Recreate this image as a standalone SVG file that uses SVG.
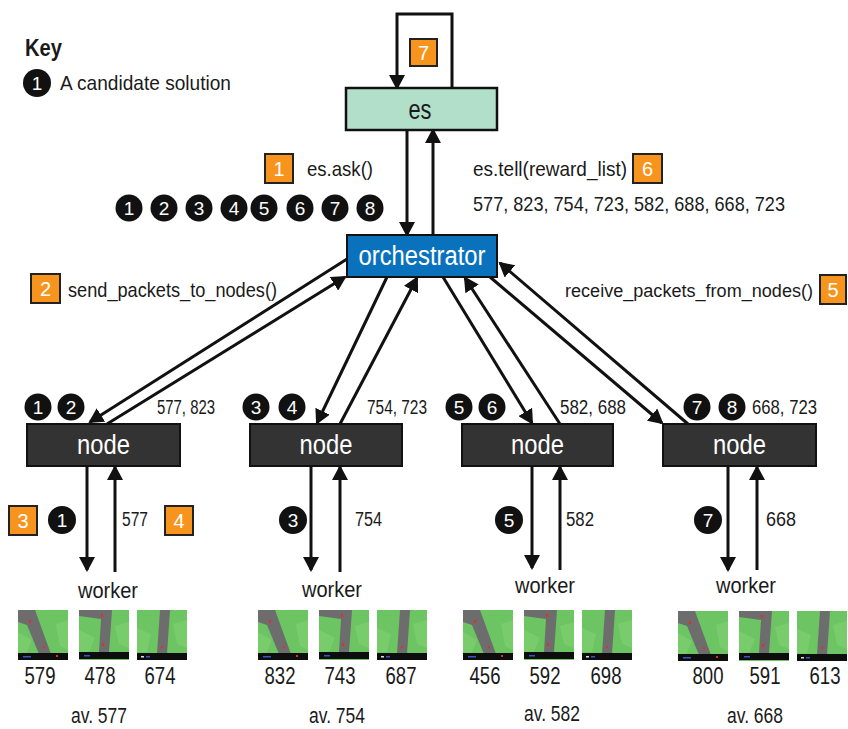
<svg xmlns="http://www.w3.org/2000/svg" xmlns:xlink="http://www.w3.org/1999/xlink" width="848" height="729" viewBox="0 0 848 729">
  <style>
    text { font-family: "Liberation Sans", Arial, sans-serif; fill: #1a1a1a; }
    .t { font-size: 21px; }
    .sm { font-size: 20px; }
    .key { font-size: 23px; font-weight: bold; }
    .box-label { font-size: 27px; fill: #ffffff; text-anchor: middle; }
    .es-label { font-size: 27px; fill: #1a1a1a; text-anchor: middle; }
    .step rect { fill: #f7941d; stroke: #222; stroke-width: 2; }
    .step text { font-size: 20px; fill: #ffffff; text-anchor: middle; }
    .sol circle { fill: #111; }
    .sol text { font-size: 19px; fill: #ffffff; text-anchor: middle; }
    .num { font-size: 22px; text-anchor: middle; }
    .score { font-size: 23px; text-anchor: middle; }
    .conn { stroke: #111; stroke-width: 3; fill: none; marker-end: url(#ah); }
  </style>
  <defs>
    <marker id="ah" markerWidth="16" markerHeight="16" refX="13" refY="8" orient="auto" markerUnits="userSpaceOnUse">
      <path d="M0,0 L15,8 L0,16 z" fill="#111"/>
    </marker>
    <!-- small race-track frames -->
    <g id="thumbA">
      <rect x="0" y="0" width="50" height="50" fill="#6cc462"/>
      <polygon points="0,22 14,30 8,44 0,44" fill="#78cc6c"/>
      <polygon points="38,14 50,10 50,40 42,36" fill="#78cc6c"/>
      <polygon points="0,0 17,0 33,44 21,44 9,15 0,12" fill="#6d6d6d"/>
      <rect x="11" y="10" width="2" height="3" fill="#e0302a"/>
      <rect x="25" y="36" width="2" height="2" fill="#e0302a"/>
      <rect x="0" y="43" width="50" height="7" fill="#0d0d0d"/>
      <rect x="5" y="46" width="8" height="1.5" fill="#3a55c8"/>
      <rect x="38" y="45" width="2" height="2" fill="#e0302a"/>
    </g>
    <g id="thumbB">
      <rect x="0" y="0" width="50" height="50" fill="#6cc462"/>
      <polygon points="0,20 16,28 10,42 0,42" fill="#78cc6c"/>
      <polygon points="36,16 50,12 50,38 40,34" fill="#78cc6c"/>
      <polygon points="0,0 33,0 30,42 20,42 22,9 0,6" fill="#6d6d6d"/>
      <rect x="22" y="4" width="2" height="3" fill="#e0302a"/>
      <rect x="23" y="33" width="2" height="3" fill="#e0302a"/>
      <rect x="0" y="42" width="50" height="7" fill="#0d0d0d"/>
      <rect x="5" y="45" width="6" height="1.5" fill="#3a55c8"/>
    </g>
    <g id="thumbC">
      <rect x="0" y="0" width="50" height="50" fill="#6cc462"/>
      <polygon points="0,18 14,24 10,42 0,42" fill="#78cc6c"/>
      <polygon points="36,14 50,10 50,38 40,34" fill="#78cc6c"/>
      <polygon points="23,0 33,0 30,44 20,44" fill="#6d6d6d"/>
      <rect x="24" y="36" width="2" height="2" fill="#e0302a"/>
      <rect x="0" y="43" width="50" height="7" fill="#0d0d0d"/>
      <rect x="4" y="46" width="3" height="1.5" fill="#dddddd"/>
      <rect x="9" y="46" width="4" height="1.5" fill="#3a55c8"/>
    </g>
  </defs>

  <rect width="848" height="729" fill="#ffffff"/>

  <!-- key -->
  <g id="key">
    <text class="key" x="25" y="56" textLength="37" lengthAdjust="spacingAndGlyphs">Key</text>
    <g class="sol"><circle cx="37" cy="83" r="14"/><text x="37" y="90">1</text></g>
    <text class="t" x="60" y="90" textLength="171" lengthAdjust="spacingAndGlyphs">A candidate solution</text>
  </g>

  <!-- connectors -->
  <g id="connectors">
    <path class="conn" d="M452,88 V14 H397 V88"/>
    <path class="conn" d="M407,130 V235"/>
    <path class="conn" d="M433,235 V130"/>
    <path class="conn" d="M347,259 L90,422"/>
    <path class="conn" d="M107,424 L345,277"/>
    <path class="conn" d="M387,277 L317,423"/>
    <path class="conn" d="M340,424 L417,278"/>
    <path class="conn" d="M443,277 L532,423"/>
    <path class="conn" d="M560,424 L465,278"/>
    <path class="conn" d="M490,277 L662,423"/>
    <path class="conn" d="M688,424 L500,263"/>
    <path class="conn" d="M87,466 V570"/>
    <path class="conn" d="M115,572 V467"/>
    <path class="conn" d="M311,466 V570"/>
    <path class="conn" d="M340,572 V467"/>
    <path class="conn" d="M532,466 V568"/>
    <path class="conn" d="M560,570 V467"/>
    <path class="conn" d="M728,466 V570"/>
    <path class="conn" d="M757,570 V467"/>
  </g>

  <!-- es -->
  <g id="es">
    <rect x="346" y="88" width="151" height="42" fill="#b2dfca" stroke="#111" stroke-width="2.5"/>
    <text class="es-label" x="420" y="119" textLength="23" lengthAdjust="spacingAndGlyphs">es</text>
  </g>

  <!-- orchestrator -->
  <g id="orchestrator">
    <rect x="347" y="235" width="150" height="42" fill="#0a72bd" stroke="#111" stroke-width="2"/>
    <text class="box-label" x="422" y="265" textLength="127" lengthAdjust="spacingAndGlyphs">orchestrator</text>
  </g>

  <!-- nodes -->
  <g id="node1">
    <rect x="27" y="424" width="153" height="42" fill="#333333" stroke="#111" stroke-width="2"/>
    <text class="box-label" x="103.5" y="454" textLength="53" lengthAdjust="spacingAndGlyphs">node</text>
  </g>
  <g id="node2">
    <rect x="250" y="424" width="152" height="42" fill="#333333" stroke="#111" stroke-width="2"/>
    <text class="box-label" x="326" y="454" textLength="53" lengthAdjust="spacingAndGlyphs">node</text>
  </g>
  <g id="node3">
    <rect x="462" y="424" width="151" height="42" fill="#333333" stroke="#111" stroke-width="2"/>
    <text class="box-label" x="537.5" y="454" textLength="53" lengthAdjust="spacingAndGlyphs">node</text>
  </g>
  <g id="node4">
    <rect x="663" y="424" width="153" height="42" fill="#333333" stroke="#111" stroke-width="2"/>
    <text class="box-label" x="739.5" y="454" textLength="53" lengthAdjust="spacingAndGlyphs">node</text>
  </g>

  <!-- step badges -->
  <g class="step">
    <rect x="410" y="39" width="27" height="27"/><text x="423.5" y="60">7</text>
    <rect x="265" y="154" width="28" height="29"/><text x="279" y="176">1</text>
    <rect x="633" y="154" width="29" height="29"/><text x="647.5" y="176">6</text>
    <rect x="31" y="274" width="29" height="29"/><text x="45.5" y="296">2</text>
    <rect x="820" y="275" width="26" height="29"/><text x="833" y="297">5</text>
    <rect x="9" y="506" width="28" height="29"/><text x="23" y="528">3</text>
    <rect x="165" y="506" width="28" height="29"/><text x="179" y="528">4</text>
  </g>

  <!-- labels on the upper links -->
  <text class="t" x="307" y="176" textLength="66" lengthAdjust="spacingAndGlyphs">es.ask()</text>
  <text class="t" x="473" y="176" textLength="154" lengthAdjust="spacingAndGlyphs">es.tell(reward_list)</text>
  <text class="t" x="473" y="211" textLength="312" lengthAdjust="spacingAndGlyphs">577, 823, 754, 723, 582, 688, 668, 723</text>
  <text class="t" x="68" y="297" textLength="209" lengthAdjust="spacingAndGlyphs">send_packets_to_nodes()</text>
  <text x="565" y="297" font-size="18" textLength="248" lengthAdjust="spacingAndGlyphs">receive_packets_from_nodes()</text>

  <!-- candidate solutions handed out by es.ask() -->
  <g class="sol">
    <circle cx="129" cy="208" r="13.5"/><text x="129" y="215">1</text>
    <circle cx="164" cy="208" r="13.5"/><text x="164" y="215">2</text>
    <circle cx="199" cy="208" r="13.5"/><text x="199" y="215">3</text>
    <circle cx="234" cy="208" r="13.5"/><text x="234" y="215">4</text>
    <circle cx="264" cy="208" r="13.5"/><text x="264" y="215">5</text>
    <circle cx="300" cy="208" r="13.5"/><text x="300" y="215">6</text>
    <circle cx="335" cy="208" r="13.5"/><text x="335" y="215">7</text>
    <circle cx="370" cy="208" r="13.5"/><text x="370" y="215">8</text>
  </g>

  <!-- per-node packets -->
  <g class="sol">
    <circle cx="38" cy="407" r="13.5"/><text x="38" y="414">1</text>
    <circle cx="71" cy="407" r="13.5"/><text x="71" y="414">2</text>
    <circle cx="256" cy="407" r="13.5"/><text x="256" y="414">3</text>
    <circle cx="292" cy="407" r="13.5"/><text x="292" y="414">4</text>
    <circle cx="459" cy="407" r="13.5"/><text x="459" y="414">5</text>
    <circle cx="492" cy="407" r="13.5"/><text x="492" y="414">6</text>
    <circle cx="697" cy="407" r="13.5"/><text x="697" y="414">7</text>
    <circle cx="732" cy="407" r="13.5"/><text x="732" y="414">8</text>
  </g>
  <text class="sm" x="157" y="414" textLength="58" lengthAdjust="spacingAndGlyphs">577, 823</text>
  <text class="sm" x="367" y="414" textLength="60" lengthAdjust="spacingAndGlyphs">754, 723</text>
  <text class="sm" x="560" y="414" textLength="66" lengthAdjust="spacingAndGlyphs">582, 688</text>
  <text class="sm" x="752" y="414" textLength="65" lengthAdjust="spacingAndGlyphs">668, 723</text>

  <!-- node to worker links -->
  <g class="sol">
    <circle cx="62" cy="520" r="14"/><text x="62" y="527">1</text>
    <circle cx="293" cy="520" r="14"/><text x="293" y="527">3</text>
    <circle cx="509" cy="520" r="14"/><text x="509" y="527">5</text>
    <circle cx="708" cy="520" r="14"/><text x="708" y="527">7</text>
  </g>
  <text class="sm" x="122" y="526" textLength="26" lengthAdjust="spacingAndGlyphs">577</text>
  <text class="sm" x="355" y="526" textLength="27" lengthAdjust="spacingAndGlyphs">754</text>
  <text class="sm" x="566" y="526" textLength="28" lengthAdjust="spacingAndGlyphs">582</text>
  <text class="sm" x="766" y="526" textLength="30" lengthAdjust="spacingAndGlyphs">668</text>

  <!-- workers -->
  <g id="worker1">
    <text class="num" x="108" y="598" textLength="60" lengthAdjust="spacingAndGlyphs">worker</text>
    <use xlink:href="#thumbA" x="18" y="610"/>
    <use xlink:href="#thumbB" x="79" y="610"/>
    <use xlink:href="#thumbC" x="137" y="610"/>
    <text class="score" x="40" y="684" textLength="31" lengthAdjust="spacingAndGlyphs">579</text>
    <text class="score" x="100" y="684" textLength="31" lengthAdjust="spacingAndGlyphs">478</text>
    <text class="score" x="160" y="684" textLength="31" lengthAdjust="spacingAndGlyphs">674</text>
    <text class="num" x="99" y="723" textLength="56" lengthAdjust="spacingAndGlyphs">av. 577</text>
  </g>
  <g id="worker2">
    <text class="num" x="332" y="597" textLength="60" lengthAdjust="spacingAndGlyphs">worker</text>
    <use xlink:href="#thumbA" x="258" y="610"/>
    <use xlink:href="#thumbB" x="319" y="610"/>
    <use xlink:href="#thumbC" x="377" y="610"/>
    <text class="score" x="280" y="684" textLength="31" lengthAdjust="spacingAndGlyphs">832</text>
    <text class="score" x="340" y="684" textLength="31" lengthAdjust="spacingAndGlyphs">743</text>
    <text class="score" x="401" y="684" textLength="31" lengthAdjust="spacingAndGlyphs">687</text>
    <text class="num" x="337" y="723" textLength="56" lengthAdjust="spacingAndGlyphs">av. 754</text>
  </g>
  <g id="worker3">
    <text class="num" x="545" y="593" textLength="60" lengthAdjust="spacingAndGlyphs">worker</text>
    <use xlink:href="#thumbA" x="463" y="610"/>
    <use xlink:href="#thumbB" x="524" y="610"/>
    <use xlink:href="#thumbC" x="582" y="610"/>
    <text class="score" x="485" y="684" textLength="31" lengthAdjust="spacingAndGlyphs">456</text>
    <text class="score" x="545" y="684" textLength="31" lengthAdjust="spacingAndGlyphs">592</text>
    <text class="score" x="606" y="684" textLength="31" lengthAdjust="spacingAndGlyphs">698</text>
    <text class="num" x="552" y="721" textLength="56" lengthAdjust="spacingAndGlyphs">av. 582</text>
  </g>
  <g id="worker4">
    <text class="num" x="746" y="593" textLength="60" lengthAdjust="spacingAndGlyphs">worker</text>
    <use xlink:href="#thumbA" x="678" y="611"/>
    <use xlink:href="#thumbB" x="739" y="611"/>
    <use xlink:href="#thumbC" x="797" y="611"/>
    <text class="score" x="708" y="684" textLength="31" lengthAdjust="spacingAndGlyphs">800</text>
    <text class="score" x="765" y="684" textLength="31" lengthAdjust="spacingAndGlyphs">591</text>
    <text class="score" x="825" y="684" textLength="31" lengthAdjust="spacingAndGlyphs">613</text>
    <text class="num" x="755" y="723" textLength="56" lengthAdjust="spacingAndGlyphs">av. 668</text>
  </g>
</svg>
